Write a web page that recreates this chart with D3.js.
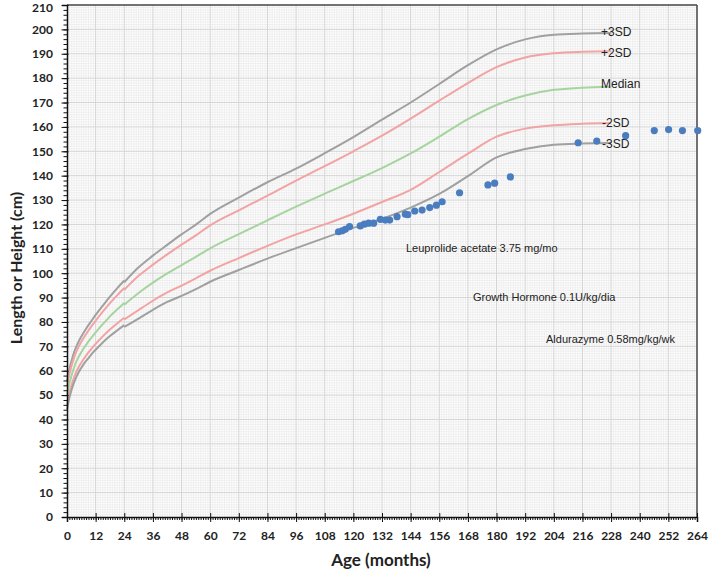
<!DOCTYPE html>
<meta charset="utf-8">
<html lang="en">
<head>
  <title>Length/Height for age</title>
  <script src="https://d3js.org/d3.v7.min.js"></script>
  <style>
    body { margin: 0; background: #fff; }
    .tick-lbl { font-family: Lato, "Liberation Sans", sans-serif; font-weight: bold; font-size: 12px; fill: #222; }
    .ann { font-family: "Liberation Sans", Arial, sans-serif; font-size: 12px; fill: #222; }
    .note { font-family: "Liberation Sans", Arial, sans-serif; font-size: 11px; fill: #222; }
  </style>
</head>
<body>
<div id="my_dataviz"></div>
<script>

// reference curves, length part (0-24 months)
var ageLen = [0, 1, 2, 3, 4, 5, 6, 7, 8, 9, 10, 11, 12, 15, 18, 21, 24];
var m3Len  = [44.2, 48.9, 52.4, 55.3, 57.6, 59.6, 61.2, 62.7, 64.0, 65.2, 66.4, 67.6, 68.6, 71.6, 74.2, 76.5, 78.7];
var m2Len  = [46.1, 50.8, 54.4, 57.3, 59.7, 61.7, 63.3, 64.8, 66.2, 67.5, 68.7, 69.9, 71.0, 74.1, 76.9, 79.4, 81.7];
var medLen = [49.9, 54.7, 58.4, 61.4, 63.9, 65.9, 67.6, 69.2, 70.6, 72.0, 73.3, 74.5, 75.7, 79.1, 82.3, 85.1, 87.8];
var p2Len  = [53.7, 58.6, 62.4, 65.5, 68.0, 70.1, 71.9, 73.5, 75.0, 76.5, 77.9, 79.2, 80.5, 84.2, 87.7, 90.9, 93.9];
var p3Len  = [55.6, 60.6, 64.4, 67.6, 70.1, 72.2, 74.0, 75.7, 77.2, 78.7, 80.1, 81.5, 82.9, 86.7, 90.4, 93.8, 97.0];

// reference curves, height part (24-228 months)
var ageHt = [24, 30, 36, 42, 48, 54, 60, 72, 84, 96, 108, 120, 132, 144, 156, 168, 180, 192, 204, 216, 228];
var m3Ht  = [78.0, 81.4, 85.0, 88.2, 90.7, 93.5, 96.5, 101.3, 106.0, 110.3, 114.5, 118.6, 122.3, 126.9, 132.5, 139.8, 147.5, 150.9, 152.7, 153.2, 153.4];
var m2Ht  = [81.0, 84.9, 88.7, 92.1, 94.9, 97.9, 101.0, 106.2, 111.2, 115.9, 120.0, 124.4, 129.2, 134.2, 141.5, 149.0, 156.0, 159.3, 160.7, 161.3, 161.6];
var medHt = [87.1, 91.9, 96.1, 99.9, 103.3, 106.7, 110.2, 116.0, 121.7, 127.3, 132.6, 137.8, 143.1, 149.1, 156.0, 163.2, 169.0, 172.9, 175.2, 176.1, 176.5];
var p2Ht  = [93.2, 98.9, 103.5, 107.7, 111.7, 115.5, 119.6, 125.8, 131.8, 138.0, 143.9, 150.0, 156.4, 163.4, 170.8, 178.0, 184.5, 188.5, 190.2, 190.8, 191.0];
var p3Ht  = [96.3, 102.4, 107.2, 111.6, 115.9, 119.9, 124.3, 131.0, 137.3, 142.9, 149.2, 155.8, 163.0, 170.0, 177.6, 185.3, 191.8, 195.9, 197.8, 198.3, 198.5];

var curveNames = ["+3SD", "+2SD", "Median", "-2SD", "-3SD"];

// patient measurements
var agePt = [113.8, 115.3, 116.6, 118.4, 122.9, 124.6, 126.4, 128.5, 131.3, 133.4, 135.2, 138.3, 141.8, 142.8, 145.7, 148.8, 152.0, 154.8, 157.2, 164.5, 176.4, 179.2, 185.8, 214.2, 222.0, 234.1, 246.1, 252.1, 257.9, 264.3];
var htPt  = [117.0, 117.4, 118.0, 119.1, 119.4, 120.1, 120.5, 120.5, 122.1, 121.8, 121.8, 123.2, 124.2, 124.0, 125.5, 125.9, 126.9, 127.9, 129.3, 133.0, 136.2, 136.9, 139.5, 153.5, 154.2, 156.4, 158.5, 158.9, 158.5, 158.5];

// treatment notes
var notes = ["Leuprolide acetate 3.75 mg/mo", "Growth Hormone 0.1U/kg/dia", "Aldurazyme 0.58mg/kg/wk"];

var margin = {top: 5, right: 12, bottom: 52, left: 67},
    width = 709 - margin.left - margin.right,
    height = 569 - margin.top - margin.bottom;

var svg = d3.select("#my_dataviz")
  .append("svg")
    .attr("width", 709)
    .attr("height", 569)
  .append("g")
    .attr("transform", "translate(" + margin.left + "," + margin.top + ")");

var x = d3.scaleLinear().domain([0, 264]).range([0, width]);
var y = d3.scaleLinear().domain([0, 210]).range([height, 0]);

// fine grid
svg.append("g").selectAll("line")
  .data(d3.range(1, 264).filter(function(d) { return d % 12 != 0; }))
  .enter().append("line")
    .attr("x1", function(d) { return x(d); }).attr("x2", function(d) { return x(d); })
    .attr("y1", 0).attr("y2", height)
    .style("stroke", "#ececec").style("stroke-width", 0.8);
svg.append("g").selectAll("line")
  .data(d3.range(1, 210).filter(function(d) { return d % 10 != 0; }))
  .enter().append("line")
    .attr("y1", function(d) { return y(d); }).attr("y2", function(d) { return y(d); })
    .attr("x1", 0).attr("x2", width)
    .style("stroke", "#ececec").style("stroke-width", 0.8);

// major grid
svg.append("g").selectAll("line")
  .data(d3.range(12, 264, 12))
  .enter().append("line")
    .attr("x1", function(d) { return x(d); }).attr("x2", function(d) { return x(d); })
    .attr("y1", 0).attr("y2", height)
    .style("stroke", "#d4d4d4").style("stroke-width", 1);
svg.append("g").selectAll("line")
  .data(d3.range(10, 210, 10))
  .enter().append("line")
    .attr("y1", function(d) { return y(d); }).attr("y2", function(d) { return y(d); })
    .attr("x1", 0).attr("x2", width)
    .style("stroke", "#d4d4d4").style("stroke-width", 1);

// frame top / right
svg.append("line").attr("x1", 0).attr("x2", width).attr("y1", 0).attr("y2", 0)
  .style("stroke", "#444").style("stroke-width", 1.5);
svg.append("line").attr("x1", width).attr("x2", width).attr("y1", 0).attr("y2", height)
  .style("stroke", "#444").style("stroke-width", 1.5);

// growth curves
var colors = ["#a0a0a0", "#f2a3a3", "#a6d49f", "#f2a3a3", "#a0a0a0"];
var lenSets = [p3Len, p2Len, medLen, m2Len, m3Len];
var htSets = [p3Ht, p2Ht, medHt, m2Ht, m3Ht];

var lineLen = d3.line()
  .x(function(d, i) { return x(ageLen[i]); })
  .y(function(d) { return y(d); })
  .curve(d3.curveMonotoneX);
var lineHt = d3.line()
  .x(function(d, i) { return x(ageHt[i]); })
  .y(function(d) { return y(d); })
  .curve(d3.curveMonotoneX);

curveNames.forEach(function(name, k) {
  svg.append("path")
    .attr("d", lineLen(lenSets[k]))
    .style("fill", "none").style("stroke", colors[k]).style("stroke-width", 2);
  svg.append("path")
    .attr("d", lineHt(htSets[k]))
    .style("fill", "none").style("stroke", colors[k]).style("stroke-width", 2);
});

// curve labels
var labelPos = [[601, 31.5], [601, 52.5], [601, 84], [602, 122.5], [602, 144]];
curveNames.forEach(function(name, k) {
  svg.append("text")
    .attr("class", "ann")
    .attr("x", labelPos[k][0] - margin.left)
    .attr("y", labelPos[k][1] - margin.top)
    .attr("dy", "0.35em")
    .text(name);
});

// patient points
svg.append("g").selectAll("circle")
  .data(agePt)
  .enter().append("circle")
    .attr("cx", function(d) { return x(d); })
    .attr("cy", function(d, i) { return y(htPt[i]); })
    .attr("r", 3.6)
    .style("fill", "#4a7dbf");

// notes
var notePos = [[406, 248], [473, 297], [546, 339]];
notes.forEach(function(t, k) {
  svg.append("text")
    .attr("class", "note")
    .attr("x", notePos[k][0] - margin.left)
    .attr("y", notePos[k][1] - margin.top)
    .attr("dy", "0.35em")
    .text(t);
});

// Y axis with minor ticks
svg.append("g")
  .call(d3.axisLeft(y).tickValues(d3.range(0, 211, 2)).tickSize(3.5).tickFormat(""))
  .call(function(g) { g.selectAll("line").style("stroke", "#111"); })
  .select(".domain").remove();
svg.append("g")
  .call(d3.axisLeft(y).tickValues(d3.range(0, 211, 10)).tickSize(5))
  .call(function(g) {
    g.select(".domain").style("stroke", "#111").style("stroke-width", 1.5);
    g.selectAll("line").style("stroke", "#111").attr("x2", -5.5).attr("x1", 1.5);
    g.selectAll("text").attr("class", "tick-lbl").attr("x", -14)
      .style("font-family", null).style("font-size", null);
    // keep the top label inside the page
    g.selectAll("text").filter(function(d) { return d == 210; }).attr("dy", "0.55em");
  });

// X axis with minor ticks
svg.append("g")
  .attr("transform", "translate(0," + height + ")")
  .call(d3.axisBottom(x).tickValues(d3.range(0, 265, 1)).tickSize(3).tickFormat(""))
  .call(function(g) { g.selectAll("line").style("stroke", "#111"); })
  .select(".domain").remove();
svg.append("g")
  .attr("transform", "translate(0," + height + ")")
  .call(d3.axisBottom(x).tickValues(d3.range(0, 265, 12)).tickSize(5))
  .call(function(g) {
    g.select(".domain").style("stroke", "#111").style("stroke-width", 1.5);
    g.selectAll("line").style("stroke", "#111").attr("y1", -4).attr("y2", 5);
    g.selectAll("text").attr("class", "tick-lbl").attr("y", 14)
      .style("font-family", null).style("font-size", null);
  });

// axis titles
svg.append("text")
  .attr("x", 381 - margin.left)
  .attr("y", 560 - margin.top)
  .attr("dy", "0.35em")
  .style("text-anchor", "middle")
  .style("font-family", "Lato, 'Liberation Sans', sans-serif")
  .style("font-weight", "bold")
  .style("font-size", "17px")
  .style("fill", "#222")
  .text("Age (months)");

svg.append("text")
  .attr("transform", "rotate(-90)")
  .attr("x", -(268 - margin.top))
  .attr("y", 16 - margin.left)
  .attr("dy", "0.35em")
  .style("text-anchor", "middle")
  .style("font-family", "Lato, 'Liberation Sans', sans-serif")
  .style("font-weight", "bold")
  .style("font-size", "16px")
  .style("fill", "#222")
  .text("Length or Height (cm)");

</script>
</body>
</html>
